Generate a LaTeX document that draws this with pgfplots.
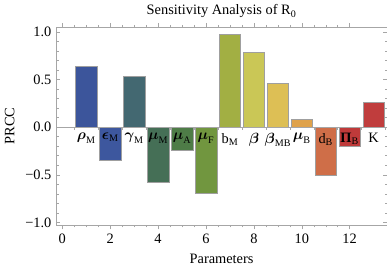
\documentclass[border=0pt]{standalone}
\usepackage{pgfplots}
\pgfplotsset{compat=1.18}
\usepackage{amsmath}
\usepackage{fontspec}
\setmainfont{Liberation Serif}
\definecolor{c1}{HTML}{3C559B}
\definecolor{c2}{HTML}{3D579E}
\definecolor{c3}{HTML}{436871}
\definecolor{c4}{HTML}{456F56}
\definecolor{c5}{HTML}{4E7C47}
\definecolor{c6}{HTML}{71963F}
\definecolor{c7}{HTML}{A2AF43}
\definecolor{c8}{HTML}{CAC756}
\definecolor{c9}{HTML}{DDBF55}
\definecolor{c10}{HTML}{DFA24B}
\definecolor{c11}{HTML}{CF6E48}
\definecolor{c12}{HTML}{BF3A3A}
\definecolor{c13}{HTML}{C03D3D}
\begin{document}
\fontsize{14}{16}\selectfont
\begin{tikzpicture}
\begin{axis}[
  scale only axis, width=322pt, height=193pt,
  xmin=-0.25, xmax=13.55, ymin=-1.03, ymax=1.05,
  xtick={0,2,4,6,8,10,12}, xticklabels={0,2,4,6,8,10,12},
  minor x tick num=3,
  ytick={-1,-0.5,0,0.5,1}, yticklabels={−1.0,−0.5,0.0,0.5,1.0},
  minor y tick num=4,
  tick align=inside, major tick length=4pt, minor tick length=2.2pt,
  axis line style={gray!70}, every tick/.style={gray!70},
  title={Sensitivity Analysis of R\textsubscript{0}},
  xlabel={Parameters}, ylabel={PRCC},
  title style={yshift=-2pt},
  ylabel style={yshift=1pt},
  xlabel style={yshift=0pt},
  ybar, bar width=0.9, 
  every axis plot/.append style={bar shift=0pt, draw=gray!75, line width=0.5pt},
  clip=false,
]
\addplot[fill=c1] coordinates {(1,0.637)};
\addplot[fill=c2] coordinates {(2,-0.35)};
\addplot[fill=c3] coordinates {(3,0.53)};
\addplot[fill=c4] coordinates {(4,-0.58)};
\addplot[fill=c5] coordinates {(5,-0.24)};
\addplot[fill=c6] coordinates {(6,-0.69)};
\addplot[fill=c7] coordinates {(7,0.97)};
\addplot[fill=c8] coordinates {(8,0.79)};
\addplot[fill=c9] coordinates {(9,0.46)};
\addplot[fill=c10] coordinates {(10,0.08)};
\addplot[fill=c11] coordinates {(11,-0.51)};
\addplot[fill=c12] coordinates {(12,-0.20)};
\addplot[fill=c13] coordinates {(13,0.26)};
\draw[gray!70] (axis cs:-0.25,0) -- (axis cs:13.55,0);
\pgfplotsinvokeforeach{0.5,1.5,2.5,3.5,4.5,5.5,6.5,7.5,8.5,9.5,10.5,11.5,12.5,13.5}{\draw[gray!70] (axis cs:#1,0) -- ([yshift=-3pt]axis cs:#1,0);}
\path (axis cs:1,0) node[anchor=north, yshift=-1pt] {$\boldsymbol{\rho}_{\text{M}}$};
\path (axis cs:2,0) node[anchor=north, yshift=-1pt] {$\boldsymbol{\epsilon}_{\text{M}}$};
\path (axis cs:3,0) node[anchor=north, yshift=-1pt] {$\boldsymbol{\gamma}_{\text{M}}$};
\path (axis cs:4,0) node[anchor=north, yshift=-1pt] {$\boldsymbol{\mu}_{\text{M}}$};
\path (axis cs:5,0) node[anchor=north, yshift=-1pt] {$\boldsymbol{\mu}_{\text{A}}$};
\path (axis cs:6,0) node[anchor=north, yshift=-1pt] {$\boldsymbol{\mu}_{\text{F}}$};
\path (axis cs:7,0) node[anchor=north, yshift=-1pt] {b\textsubscript{M}};
\path (axis cs:8,0) node[anchor=north, yshift=-1pt] {$\boldsymbol{\beta}$};
\path (axis cs:9,0) node[anchor=north, yshift=-1pt] {$\boldsymbol{\beta}_{\text{MB}}$};
\path (axis cs:10,0) node[anchor=north, yshift=-1pt] {$\boldsymbol{\mu}_{\text{B}}$};
\path (axis cs:11,0) node[anchor=north, yshift=-1pt] {d\textsubscript{B}};
\path (axis cs:12,0) node[anchor=north, yshift=-1pt] {\textbf{Π}\textsubscript{B}};
\path (axis cs:13,0) node[anchor=north, yshift=-1pt] {K};
\end{axis}
\end{tikzpicture}
\end{document}
